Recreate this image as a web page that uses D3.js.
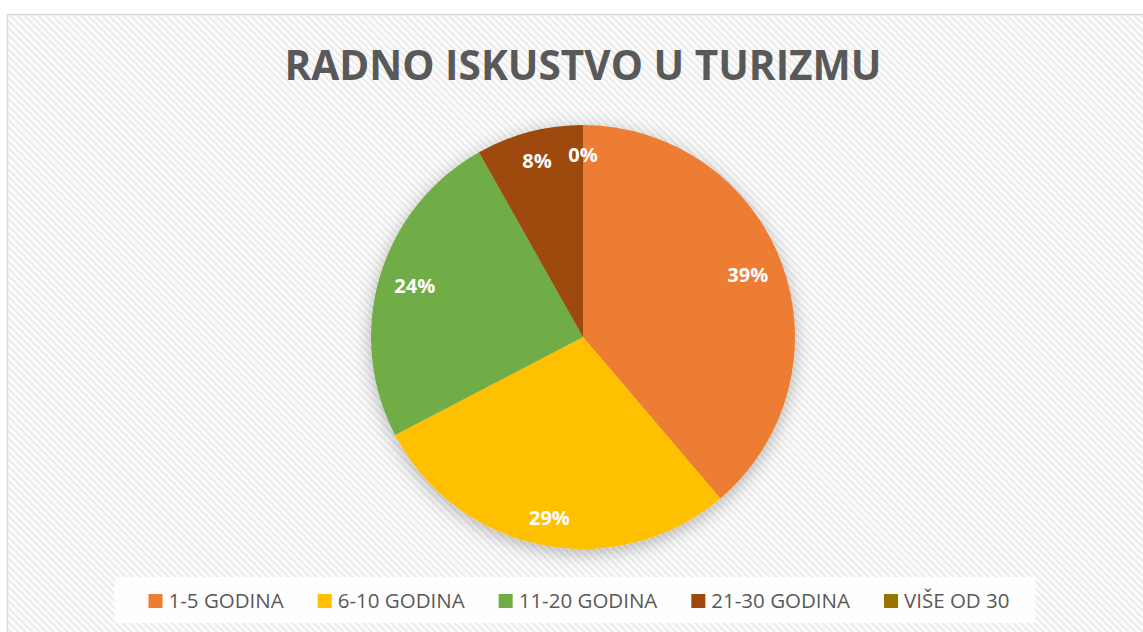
<!DOCTYPE html>
<html>
<head>
<meta charset="utf-8">
<script src="https://cdn.jsdelivr.net/npm/d3@7"></script>
<style>
  body { margin: 0; background: #fff; }
  svg { display: block; }
  text { font-family: "Open Sans", "Liberation Sans", sans-serif; }
</style>
</head>
<body>
<svg width="1143" height="632"></svg>
<script>
var categories = ["1-5 GODINA", "6-10 GODINA", "11-20 GODINA", "21-30 GODINA", "VIŠE OD 30"];
var counts = [19, 14, 12, 4, 0];
var colors = ["#ED7D31", "#FFC000", "#70AD47", "#9E480E", "#997300"];
var title = "RADNO ISKUSTVO U TURIZMU";

var svg = d3.select("svg");
var width = +svg.attr("width");
var height = +svg.attr("height");
var cx = 583, cy = 337, radius = 212;
var total = d3.sum(counts);

var data = categories.map(function (c, i) {
    return { name: c, value: counts[i], color: colors[i] };
});

var defs = svg.append("defs");

// diagonal hatch background
var pat = defs.append("pattern")
    .attr("id", "hatch")
    .attr("width", 5)
    .attr("height", 5)
    .attr("patternUnits", "userSpaceOnUse")
    .attr("patternTransform", "rotate(-45)");
pat.append("rect").attr("width", 5).attr("height", 5).attr("fill", "#fdfdfd");
pat.append("rect").attr("width", 2.2).attr("height", 5).attr("fill", "#ebebeb");

var shadow = defs.append("filter")
    .attr("id", "shadow")
    .attr("x", "-30%").attr("y", "-30%")
    .attr("width", "160%").attr("height", "160%");
shadow.append("feDropShadow")
    .attr("dx", 0).attr("dy", 4)
    .attr("stdDeviation", 9)
    .attr("flood-color", "#000")
    .attr("flood-opacity", 0.28);

// chart area frame
svg.append("rect")
    .attr("x", 7.5).attr("y", 14.5)
    .attr("width", width + 10).attr("height", height + 10)
    .attr("fill", "url(#hatch)")
    .attr("stroke", "#d9d9d9")
    .attr("stroke-width", 1.5);

// title
var t = svg.append("text")
    .attr("x", cx)
    .attr("y", 80)
    .attr("text-anchor", "middle")
    .attr("font-size", 41)
    .attr("font-weight", "bold")
    .attr("fill", "#595959")
    .text(title);
t.attr("textLength", 597).attr("lengthAdjust", "spacingAndGlyphs");

var pie = d3.pie().sort(null).value(function (d) { return d.value; });
var arc = d3.arc().innerRadius(0).outerRadius(radius);
var arcs = pie(data);

var g = svg.append("g").attr("transform", "translate(" + cx + "," + cy + ")");

g.append("g")
    .attr("filter", "url(#shadow)")
    .selectAll("path")
    .data(arcs)
    .enter()
    .append("path")
    .attr("d", arc)
    .attr("fill", function (d) { return d.data.color; });

// labels, placed inside end of each slice
var inset = 196;
var labels = g.append("g")
    .selectAll("text")
    .data(arcs)
    .enter()
    .append("text")
    .attr("text-anchor", "middle")
    .attr("font-size", 20)
    .attr("font-weight", "bold")
    .attr("fill", "#fff")
    .text(function (d) { return Math.round(d.data.value / total * 100) + "%"; });

labels.each(function (d) {
    var bb = this.getBBox();
    var a = (d.startAngle + d.endAngle) / 2;
    var ux = Math.sin(a), uy = -Math.cos(a);
    var hw = bb.width / 2, hh = 13;
    var x = inset * ux - hw * ux;
    var y = inset * uy - hh * uy;
    d3.select(this).attr("x", x).attr("y", y + 8);
});

// legend
var legendY = 600;
var lg = svg.append("g");
var lbg = lg.append("rect")
    .attr("fill", "#fff")
    .attr("fill-opacity", 0.85);

var items = lg.selectAll("g.item")
    .data(data)
    .enter()
    .append("g")
    .attr("class", "item");

items.append("rect")
    .attr("width", 14)
    .attr("height", 14)
    .attr("y", legendY - 6)
    .attr("fill", function (d) { return d.color; });

items.append("text")
    .attr("x", 20)
    .attr("y", legendY + 7.5)
    .attr("font-size", 20.5)
    .attr("fill", "#595959")
    .text(function (d) { return d.name; });

var widths = [];
items.each(function () {
    widths.push(20 + d3.select(this).select("text").node().getComputedTextLength());
});
var gap = 34;
var totalW = d3.sum(widths) + gap * (widths.length - 1);
var x0 = 579 - totalW / 2;
var xs = [];
var acc = x0;
widths.forEach(function (w) { xs.push(acc); acc += w + gap; });
items.attr("transform", function (d, i) { return "translate(" + xs[i] + ",0)"; });

lbg.attr("x", x0 - 34)
    .attr("y", 577)
    .attr("width", totalW + 60)
    .attr("height", 46);
</script>
</body>
</html>
